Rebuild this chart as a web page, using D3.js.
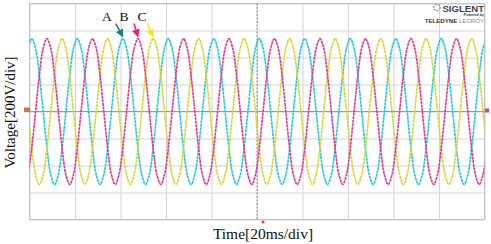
<!DOCTYPE html>
<html><head><meta charset="utf-8">
<script src="https://cdn.jsdelivr.net/npm/d3@7/dist/d3.min.js"></script>
<style>html,body{margin:0;padding:0;background:#fff;}svg{display:block;}</style>
</head><body>
<svg id="chart" width="491" height="244"></svg>
<script>
// ---- data (voltage in divisions, 200 V/div; time in ms, 20 ms/div) ----
const xTicks = [0,20,40,60,80,100,120,140,160,180,200];
const yTicks = [-4,-3,-2,-1,0,1,2,3,4];
const sampleStartMs = -0.667;
const sampleStepMs = 1.6667;
const phaseA = [2.34,
 2.7,2.34,1.35,0,-1.35,-2.34,-2.7,-2.34,-1.35,0,1.35,2.34,
 2.7,2.34,1.35,0,-1.35,-2.34,-2.7,-2.34,-1.35,0,1.35,2.34,
 2.7,2.34,1.35,0,-1.35,-2.34,-2.7,-2.34,-1.35,0,1.35,2.34,
 2.7,2.34,1.35,0,-1.35,-2.34,-2.7,-2.34,-1.35,0,1.35,2.34,
 2.7,2.34,1.35,0,-1.35,-2.34,-2.7,-2.34,-1.35,0,1.35,2.34,
 2.7,2.34,1.35,0,-1.35,-2.34,-2.7,-2.34,-1.35,0,1.35,2.34,
 2.7,2.34,1.35,0,-1.35,-2.34,-2.7,-2.34,-1.35,0,1.35,2.34,
 2.7,2.34,1.35,0,-1.35,-2.34,-2.7,-2.34,-1.35,0,1.35,2.34,
 2.7,2.34,1.35,0,-1.35,-2.34,-2.7,-2.34,-1.35,0,1.35,2.34,
 2.7,2.34,1.35,0,-1.35,-2.34,-2.7,-2.34,-1.35,0,1.35,2.34,
 2.7];
const phaseB = [
 -2.34,-1.35,0,1.35,2.34,2.7,2.34,1.35,0,-1.35,-2.34,-2.7,
 -2.34,-1.35,0,1.35,2.34,2.7,2.34,1.35,0,-1.35,-2.34,-2.7,
 -2.34,-1.35,0,1.35,2.34,2.7,2.34,1.35,0,-1.35,-2.34,-2.7,
 -2.34,-1.35,0,1.35,2.34,2.7,2.34,1.35,0,-1.35,-2.34,-2.7,
 -2.34,-1.35,0,1.35,2.34,2.7,2.34,1.35,0,-1.35,-2.34,-2.7,
 -2.34,-1.35,0,1.35,2.34,2.7,2.34,1.35,0,-1.35,-2.34,-2.7,
 -2.34,-1.35,0,1.35,2.34,2.7,2.34,1.35,0,-1.35,-2.34,-2.7,
 -2.34,-1.35,0,1.35,2.34,2.7,2.34,1.35,0,-1.35,-2.34,-2.7,
 -2.34,-1.35,0,1.35,2.34,2.7,2.34,1.35,0,-1.35,-2.34,-2.7,
 -2.34,-1.35,0,1.35,2.34,2.7,2.34,1.35,0,-1.35,-2.34,-2.7,
 -2.34,-1.35];
const phaseC = [
 0,-1.35,-2.34,-2.7,-2.34,-1.35,0,1.35,2.34,2.7,2.34,1.35,
 0,-1.35,-2.34,-2.7,-2.34,-1.35,0,1.35,2.34,2.7,2.34,1.35,
 0,-1.35,-2.34,-2.7,-2.34,-1.35,0,1.35,2.34,2.7,2.34,1.35,
 0,-1.35,-2.34,-2.7,-2.34,-1.35,0,1.35,2.34,2.7,2.34,1.35,
 0,-1.35,-2.34,-2.7,-2.34,-1.35,0,1.35,2.34,2.7,2.34,1.35,
 0,-1.35,-2.34,-2.7,-2.34,-1.35,0,1.35,2.34,2.7,2.34,1.35,
 0,-1.35,-2.34,-2.7,-2.34,-1.35,0,1.35,2.34,2.7,2.34,1.35,
 0,-1.35,-2.34,-2.7,-2.34,-1.35,0,1.35,2.34,2.7,2.34,1.35,
 0,-1.35,-2.34,-2.7,-2.34,-1.35,0,1.35,2.34,2.7,2.34,1.35,
 0,-1.35,-2.34,-2.7,-2.34,-1.35,0,1.35,2.34,2.7,2.34,1.35,
 0,-1.35];
const seriesNames = ["A","B","C"];
const seriesColors = ["#1fcbd6","#e8378a","#d4d82e"];
const arrowColors = ["#177f8c","#e8207a","#f2e81a"];
const labelPeakMs = [41.0, 47.67, 54.33];
const labelPeakVal = [2.7, 2.7, 2.7];

// ---- layout ----
const svg = d3.select("#chart");
const L = 29.5, R = 484.5, T = 3.5, B = 219.5;
const x = d3.scaleLinear().domain([0,200]).range([L,R]);
const y = d3.scaleLinear().domain([-4,4]).range([B,T]);

// grid
const grid = svg.append("g");
grid.append("g").attr("transform",`translate(0,${B})`)
  .call(d3.axisBottom(x).tickValues(xTicks).tickSize(-(B-T)).tickFormat(""))
  .call(g=>g.select(".domain").remove())
  .call(g=>g.selectAll("line").attr("stroke","#d4d4d4").attr("stroke-width",1));
grid.append("g").attr("transform",`translate(${L},0)`)
  .call(d3.axisLeft(y).tickValues(yTicks).tickSize(-(R-L)).tickFormat(""))
  .call(g=>g.select(".domain").remove())
  .call(g=>g.selectAll("line").attr("stroke","#d4d4d4").attr("stroke-width",1));
// frame
svg.append("rect").attr("x",L).attr("y",T).attr("width",R-L).attr("height",B-T)
  .attr("fill","none").attr("stroke","#c4c4c4");
// center lines
svg.append("line").attr("x1",L).attr("x2",R).attr("y1",y(0)).attr("y2",y(0))
  .attr("stroke","#9a9a9a").attr("stroke-width",1);
svg.append("line").attr("x1",x(100)).attr("x2",x(100)).attr("y1",T).attr("y2",B)
  .attr("stroke","#8a8a8a").attr("stroke-width",1).attr("stroke-dasharray","2,1.5");

// traces
svg.append("clipPath").attr("id","clip").append("rect")
  .attr("x",L).attr("y",T).attr("width",R-L).attr("height",B-T);
const line = d3.line()
  .x((d,i)=>x(sampleStartMs + i*sampleStepMs))
  .y(d=>y(d))
  .curve(d3.curveCatmullRom.alpha(0.5));
const traces = svg.append("g").attr("clip-path","url(#clip)");
[[phaseA,0],[phaseC,2],[phaseB,1]].forEach(([s,idx])=>{
  traces.append("path").datum(s).attr("d",line)
    .attr("fill","none").attr("stroke",seriesColors[idx]).attr("stroke-width",1.6)
    .attr("stroke-dasharray","3,0.6");
});

// markers
svg.append("rect").attr("x",24).attr("y",107.5).attr("width",6).attr("height",4)
  .attr("fill","#c8744a");
svg.append("rect").attr("x",24).attr("y",111).attr("width",6).attr("height",1.2)
  .attr("fill","#2bb0c0");
svg.append("rect").attr("x",485).attr("y",108.5).attr("width",4).attr("height",4)
  .attr("fill","#e8378a");
svg.append("circle").attr("cx",263).attr("cy",222).attr("r",1.6).attr("fill","#e8378a");

// annotations A B C with arrows
const defs = svg.append("defs");
arrowColors.forEach((c,i)=>{
  defs.append("marker").attr("id","ah"+i).attr("viewBox","0 0 10 10")
    .attr("refX",9).attr("refY",5).attr("markerWidth",5).attr("markerHeight",5)
    .attr("orient","auto").append("path").attr("d","M0,0L10,5L0,10z").attr("fill",c);
});
const labelDx = [-16, -14, -11];
const arrowFrom = [[-7,-15],[-4,-15],[-6,-15]];
seriesNames.forEach((n,i)=>{
  const px = x(labelPeakMs[i]), py = y(labelPeakVal[i]);
  svg.append("line").attr("x1",px+arrowFrom[i][0]).attr("y1",py+arrowFrom[i][1])
    .attr("x2",px).attr("y2",py-2).attr("stroke",arrowColors[i]).attr("stroke-width",1.6)
    .attr("marker-end",`url(#ah${i})`);
  svg.append("text").attr("x",px+labelDx[i]).attr("y",py-18).attr("text-anchor","middle")
    .attr("font-family","'Liberation Serif','Times New Roman',serif").attr("font-size",13.5)
    .attr("fill","#111").text(n);
});

// logo
const logo = svg.append("g");
logo.append("circle").attr("cx",437).attr("cy",7.5).attr("r",3.2).attr("fill","none")
  .attr("stroke","#999").attr("stroke-width",1.4).attr("stroke-dasharray","2,1.2");
logo.append("text").attr("x",484).attr("y",11.5).attr("text-anchor","end")
  .attr("font-family","'Liberation Sans',Arial,sans-serif").attr("font-weight","bold")
  .attr("font-size",9.6).attr("fill","#444").text("SIGLENT");
logo.append("text").attr("x",484).attr("y",16).attr("text-anchor","end")
  .attr("font-family","'Liberation Sans',Arial,sans-serif").attr("font-weight","bold")
  .attr("font-size",3.6).attr("fill","#333").text("Powered by");
const lc = logo.append("text").attr("x",484).attr("y",22.5).attr("text-anchor","end")
  .attr("font-family","'Liberation Sans',Arial,sans-serif").attr("font-size",6.1);
lc.append("tspan").attr("font-weight","bold").attr("fill","#333").text("TELEDYNE ");
lc.append("tspan").attr("fill","#888").text("LECROY");

// axis titles
svg.append("text").attr("transform",`translate(15,${y(0)+1}) rotate(-90)`)
  .attr("text-anchor","middle").attr("font-family","'Liberation Serif','Times New Roman',serif")
  .attr("font-size",15).attr("fill","#111").text("Voltage[200V/div]");
svg.append("text").attr("x",263).attr("y",239).attr("text-anchor","middle")
  .attr("font-family","'Liberation Serif','Times New Roman',serif")
  .attr("font-size",15.5).attr("fill","#111").text("Time[20ms/div]");
</script>
</body></html>
